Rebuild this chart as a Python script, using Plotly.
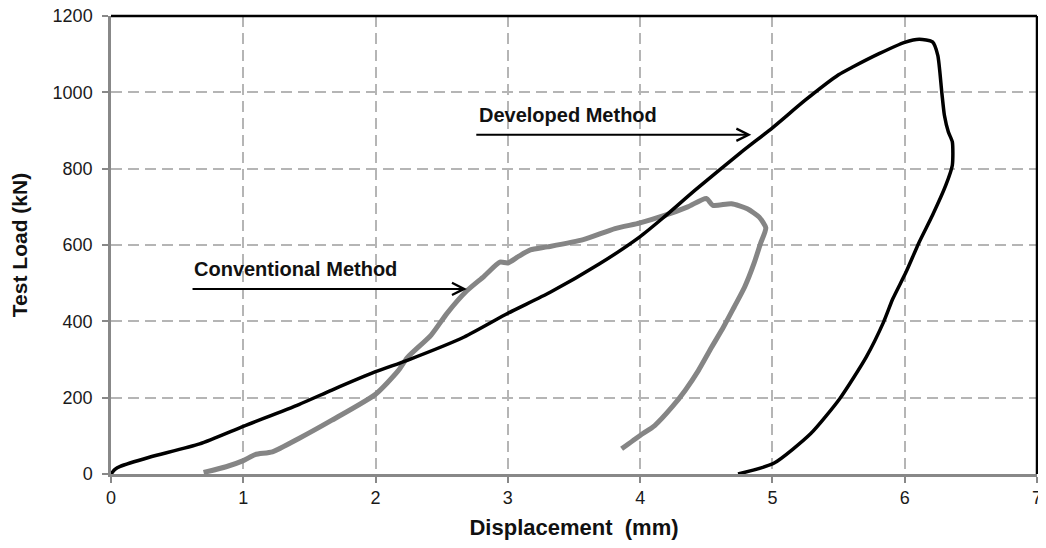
import plotly.graph_objects as go

# Developed method (black curve)
dev_x = [0.0, 0.03, 0.07, 0.29, 0.67, 1.0, 1.42, 1.67, 2.0, 2.24, 2.67, 3.0, 3.32, 3.69,
         4.0, 4.17, 4.42, 4.76, 5.0, 5.25, 5.5, 5.61, 5.81, 6.0, 6.11, 6.21, 6.25, 6.28,
         6.30, 6.33, 6.36, 6.36, 6.31, 6.21, 6.11, 6.01, 5.91, 5.84, 5.71, 5.51, 5.29,
         5.01, 4.74]
dev_y = [0, 12, 20, 44, 79, 125, 182, 220, 268, 298, 359, 421, 476, 550,
         622, 670, 745, 842, 907, 980, 1046, 1067, 1102, 1131, 1139, 1132, 1097, 1001,
         940, 896, 870, 809, 756, 678, 608, 529, 459, 398, 307, 198, 106,
         28, 0]

# Conventional method (grey curve)
con_x = [0.70, 0.87, 1.0, 1.09, 1.22, 1.42, 1.67, 2.0, 2.17, 2.24, 2.42, 2.54, 2.69, 2.82,
         2.94, 3.0, 3.08, 3.17, 3.3, 3.57, 3.81, 4.0, 4.19, 4.36, 4.5, 4.55, 4.69, 4.81,
         4.90, 4.95, 4.91, 4.86, 4.79, 4.71, 4.63, 4.54, 4.44, 4.34, 4.24, 4.11, 4.0, 3.86]
con_y = [4, 19, 35, 51, 58, 93, 141, 209, 270, 305, 364, 421, 480, 518,
         555, 553, 570, 587, 595, 614, 643, 658, 678, 700, 722, 704, 708, 695,
         673, 645, 604, 551, 490, 437, 385, 332, 271, 219, 175, 127, 101, 66]

x_ticks = [0, 1, 2, 3, 4, 5, 6, 7]
y_ticks = [0, 200, 400, 600, 800, 1000, 1200]

FONT = "Liberation Sans, Arial, sans-serif"

fig = go.Figure()
fig.add_trace(go.Scatter(x=con_x, y=con_y, mode="lines",
                         line=dict(color="#858585", width=5, shape="spline", smoothing=0.6),
                         name="Conventional Method", showlegend=False, hoverinfo="skip"))
fig.add_trace(go.Scatter(x=dev_x, y=dev_y, mode="lines",
                         line=dict(color="#000000", width=3.5, shape="spline", smoothing=0.6),
                         name="Developed Method", showlegend=False, hoverinfo="skip"))

# Labels
fig.add_annotation(x=0.61, y=536, xref="x", yref="y", text="<b>Conventional Method</b>",
                   showarrow=False, xanchor="left", yanchor="middle",
                   font=dict(family=FONT, size=20, color="#111111"))
fig.add_annotation(x=2.77, y=940, xref="x", yref="y", text="<b>Developed Method</b>",
                   showarrow=False, xanchor="left", yanchor="middle",
                   font=dict(family=FONT, size=20, color="#111111"))

# Arrows
fig.add_annotation(x=2.69, y=485, ax=0.605, ay=485, xref="x", yref="y", axref="x", ayref="y",
                   text="", showarrow=True, arrowhead=5, arrowsize=1.2, arrowwidth=2,
                   arrowcolor="#000000", standoff=0, startstandoff=0)
fig.add_annotation(x=4.84, y=889, ax=2.75, ay=889, xref="x", yref="y", axref="x", ayref="y",
                   text="", showarrow=True, arrowhead=5, arrowsize=1.2, arrowwidth=2,
                   arrowcolor="#000000", standoff=0, startstandoff=0)

# Black frame on top and right
fig.add_shape(type="line", xref="paper", yref="paper", x0=0, x1=1, y0=1, y1=1,
              line=dict(color="#000000", width=2.5))
fig.add_shape(type="line", xref="paper", yref="paper", x0=1, x1=1, y0=0, y1=1,
              line=dict(color="#000000", width=2.5))

fig.update_xaxes(range=[0, 7], tickvals=x_ticks, ticktext=[str(v) for v in x_ticks],
                 automargin=False, ticklabeloverflow="allow",
                 showgrid=True, gridcolor="#b5b5b5", gridwidth=2, griddash="11px,6px",
                 showline=True, linecolor="#888888", linewidth=2.5,
                 ticks="outside", ticklen=6, tickcolor="#888888", tickwidth=2,
                 zeroline=False,
                 tickfont=dict(family=FONT, size=18, color="#1a1a1a"),
                 title=dict(text="<b>Displacement\u00a0 (mm)</b>", standoff=14,
                            font=dict(family=FONT, size=22, color="#111111")))
fig.update_yaxes(range=[0, 1200], tickvals=y_ticks, ticktext=[str(v) for v in y_ticks],
                 automargin=False, ticklabeloverflow="allow",
                 showgrid=True, gridcolor="#b5b5b5", gridwidth=2, griddash="11px,6px",
                 showline=True, linecolor="#888888", linewidth=2.5,
                 ticks="outside", ticklen=6, tickcolor="#888888", tickwidth=2,
                 ticklabelstandoff=6,
                 zeroline=False,
                 tickfont=dict(family=FONT, size=18, color="#1a1a1a"),
                 title=dict(text="<b>Test Load (kN)</b>", standoff=21,
                            font=dict(family=FONT, size=21, color="#111111")))

fig.update_layout(width=1030, height=532,
                  margin=dict(l=103, r=1, t=8, b=66),
                  plot_bgcolor="white", paper_bgcolor="white",
                  showlegend=False)

fig.write_html("out.html")
